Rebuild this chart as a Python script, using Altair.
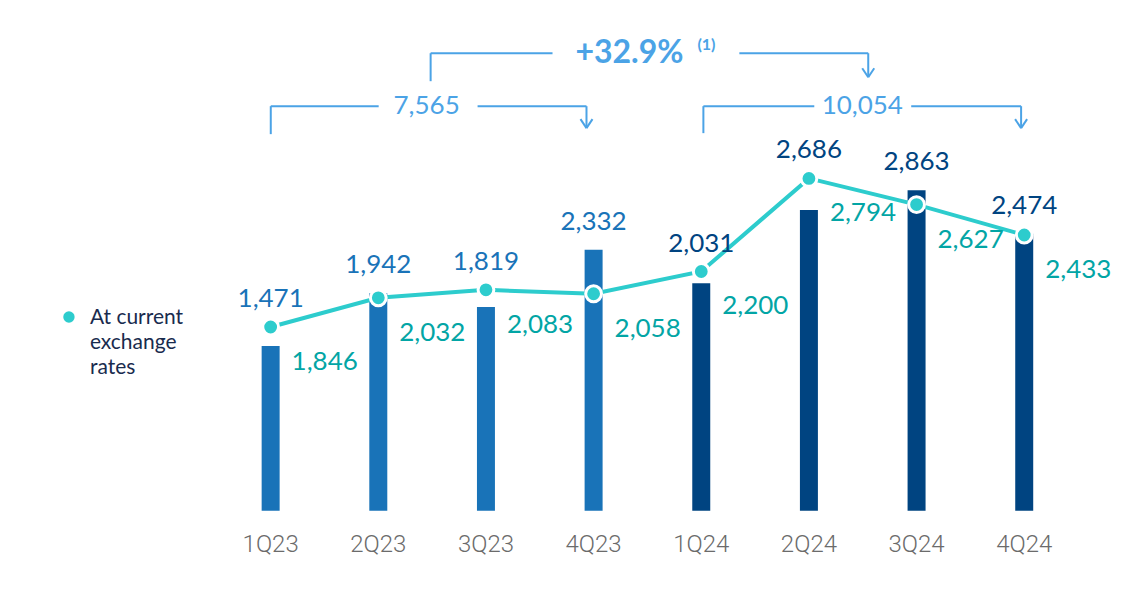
import altair as alt
import pandas as pd

# ---------------- data ----------------
quarters = ["1Q23", "2Q23", "3Q23", "4Q23", "1Q24", "2Q24", "3Q24", "4Q24"]
years = ["2023", "2023", "2023", "2023", "2024", "2024", "2024", "2024"]
constant_fx = [1471, 1942, 1819, 2332, 2031, 2686, 2863, 2474]   # bars
current_fx = [1846, 2032, 2083, 2058, 2200, 2794, 2627, 2433]    # line

total_labels = ["7,565", "10,054"]
growth_label = "+32.9%"
growth_note = "(1)"
legend_label = "At current\nexchange\nrates"

# ---------------- scales ----------------
BAR_DOMAIN = [0, 4300]
LINE_DOMAIN = [673, 3746]

df = pd.DataFrame({"quarter": quarters, "year": years,
                   "bar": constant_fx, "line": current_fx})
# bar labels sit above the higher of bar top and line point (in bar units)
line_in_bar_units = (df["line"] - LINE_DOMAIN[0]) / (LINE_DOMAIN[1] - LINE_DOMAIN[0]) * BAR_DOMAIN[1]
df["label_pos"] = pd.concat([df["bar"], line_in_bar_units], axis=1).max(axis=1)

bar_scale = alt.Scale(domain=BAR_DOMAIN, nice=False, zero=True)
line_scale = alt.Scale(domain=LINE_DOMAIN, nice=False, zero=False)
x_scale = alt.Scale(domain=quarters, paddingInner=0, paddingOuter=0)
color_scale = alt.Scale(domain=["2023", "2024"], range=["#1973B8", "#004481"])

x_plain = alt.X("quarter:N", sort=quarters, scale=x_scale, axis=None)
x_axis = alt.X("quarter:N", sort=quarters, scale=x_scale,
               axis=alt.Axis(title=None, labelAngle=0, domain=False, ticks=False,
                             grid=False, labelFont="Roboto", labelFontWeight=300,
                             labelFontSize=24, labelColor="#6b6b6b", labelPadding=22))

base = alt.Chart(df)

bars = base.mark_bar(size=18).encode(
    x=x_axis,
    y=alt.Y("bar:Q", scale=bar_scale, axis=None),
    color=alt.Color("year:N", scale=color_scale, legend=None),
)

bar_labels = base.mark_text(font="Lato", fontSize=26, baseline="middle", dy=-28).encode(
    x=x_plain,
    y=alt.Y("label_pos:Q", scale=bar_scale, axis=None),
    text=alt.Text("bar:Q", format=","),
    color=alt.Color("year:N", scale=color_scale, legend=None),
)

line = base.mark_line(color="#2DCCCD", strokeWidth=4).encode(
    x=x_plain,
    y=alt.Y("line:Q", scale=line_scale, axis=None),
)

points = base.mark_circle(size=250, color="#2DCCCD", opacity=1,
                          stroke="white", strokeWidth=3).encode(
    x=x_plain,
    y=alt.Y("line:Q", scale=line_scale, axis=None),
)

line_labels = base.mark_text(font="Lato", fontSize=26, align="left", baseline="middle",
                             dx=21, dy=35, color="#02A5A5").encode(
    x=x_plain,
    y=alt.Y("line:Q", scale=line_scale, axis=None),
    text=alt.Text("line:Q", format=","),
)

# ---------------- annotation brackets (pixel layout) ----------------
ANN = "#4BA3E6"
segments = pd.DataFrame([
    # bracket 2023
    (54, 77, 54, 105), (54, 77, 162, 77), (261, 77, 370, 77), (370, 77, 370, 99),
    (364, 90, 370, 99), (376, 90, 370, 99),
    # bracket 2024
    (487, 77, 487, 104), (487, 77, 598, 77), (695, 77, 805, 77), (805, 77, 805, 99),
    (799, 90, 805, 99), (811, 90, 805, 99),
    # growth bracket
    (214, 24, 214, 52), (214, 24, 336, 24), (523, 24, 652, 24), (652, 24, 652, 48),
    (646, 39, 652, 48), (658, 39, 652, 48),
], columns=["x", "y", "x2", "y2"])

rules = alt.Chart(segments).mark_rule(color=ANN, strokeWidth=2).encode(
    x=alt.X("x:Q", scale=None, axis=None), x2="x2:Q",
    y=alt.Y("y:Q", scale=None, axis=None), y2="y2:Q",
)

totals = alt.Chart(pd.DataFrame({"x": [210, 646], "y": [77, 77], "t": total_labels})).mark_text(
    font="Lato", fontSize=26, color=ANN, align="center", baseline="middle"
).encode(x=alt.X("x:Q", scale=None, axis=None), y=alt.Y("y:Q", scale=None, axis=None), text="t:N")

growth = alt.Chart(pd.DataFrame({"t": [growth_label]})).mark_text(
    font="Lato", fontSize=32, fontWeight="bold", color=ANN, align="left", baseline="middle"
).encode(x=alt.value(359), y=alt.value(24), text="t:N")

note = alt.Chart(pd.DataFrame({"t": [growth_note]})).mark_text(
    font="Lato", fontSize=16, fontWeight="bold", color=ANN, align="left", baseline="middle"
).encode(x=alt.value(481), y=alt.value(16), text="t:N")

# ---------------- legend ----------------
legend_dot = alt.Chart(pd.DataFrame({"t": ["dot"]})).mark_circle(
    size=130, color="#2DCCCD", opacity=1
).encode(x=alt.value(-148), y=alt.value(288))

legend_text = alt.Chart(pd.DataFrame({"t": [legend_label]})).mark_text(
    font="Lato", fontSize=21, color="#192b4e", align="left", baseline="alphabetic",
    lineBreak="\n", lineHeight=25
).encode(x=alt.value(-127), y=alt.value(295), text="t:N")

chart = alt.layer(
    bars, line, points, bar_labels, line_labels,
    rules, totals, growth, note, legend_dot, legend_text
).resolve_scale(x="independent", y="independent", color="independent").properties(
    width=862, height=482,
    autosize=alt.AutoSizeParams(type="none"),
    padding={"left": 209, "top": 21, "right": 60, "bottom": 75},
).configure_view(stroke=None)

chart.save("out.html", embed_options={"renderer": "svg", "actions": False})
